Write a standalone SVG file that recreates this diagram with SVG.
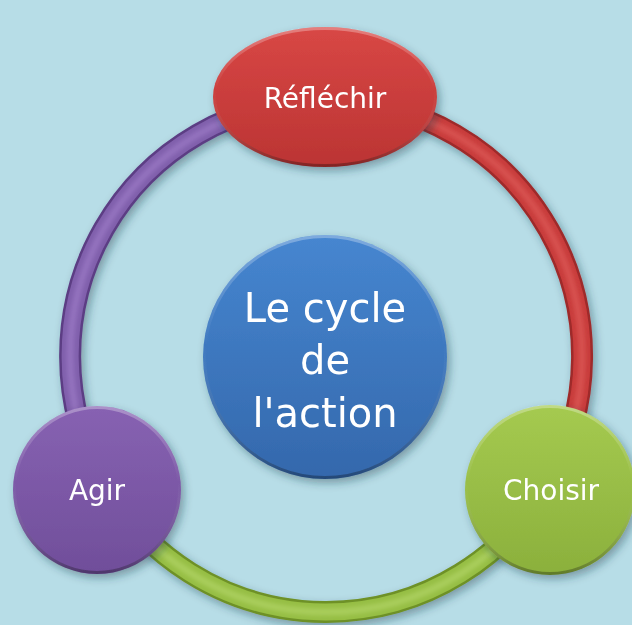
<svg xmlns="http://www.w3.org/2000/svg" width="632" height="625" viewBox="0 0 632 625">
<defs>
<filter id="sh" x="-20%" y="-20%" width="140%" height="140%">
<feDropShadow dx="3" dy="4" stdDeviation="4" flood-color="#1d3b45" flood-opacity="0.4"/>
</filter>
<filter id="bl" x="-10%" y="-10%" width="120%" height="120%">
<feGaussianBlur stdDeviation="2"/>
</filter>
<linearGradient id="gRed" x1="0" y1="0" x2="0" y2="1"><stop offset="0" stop-color="#d84745"/><stop offset="1" stop-color="#bb3433"/></linearGradient>
<linearGradient id="gPur" x1="0" y1="0" x2="0" y2="1"><stop offset="0" stop-color="#8762b2"/><stop offset="1" stop-color="#704e9a"/></linearGradient>
<linearGradient id="gGrn" x1="0" y1="0" x2="0" y2="1"><stop offset="0" stop-color="#a5ca50"/><stop offset="1" stop-color="#8bb03c"/></linearGradient>
<linearGradient id="gBlu" x1="0" y1="0" x2="0" y2="1"><stop offset="0" stop-color="#4686d0"/><stop offset="1" stop-color="#3468ac"/></linearGradient>
<linearGradient id="rim" x1="0" y1="0" x2="0" y2="1"><stop offset="0" stop-color="#ffffff" stop-opacity="0.3"/><stop offset="0.45" stop-color="#ffffff" stop-opacity="0"/><stop offset="1" stop-color="#000000" stop-opacity="0.3"/></linearGradient>
</defs>
<style>
.t{font-family:"Comic Sans MS","DejaVu Sans",sans-serif;fill:#ffffff;text-anchor:middle}
.base{fill:none;stroke-width:22}
.mid{fill:none;stroke-width:17}
.hi{fill:none;stroke-width:7;stroke-opacity:0.45}
.rim{fill:none;stroke:url(#rim);stroke-width:3}
</style>
<rect width="632" height="625" fill="#b7dde7"/>
<g id="connectors" filter="url(#sh)">
<g id="arc-red">
<path class="base" stroke="#9e2a2a" d="M326,100 A256,256 0 0 1 546,487"/>
<path class="mid" stroke="#c83c3b" d="M326,100 A256,256 0 0 1 546,487"/>
<path class="hi" stroke="#e86a68" filter="url(#bl)" d="M326,100 A256,256 0 0 1 546,487"/>
</g>
<g id="arc-purple">
<path class="base" stroke="#5c3e84" d="M105,485 A256,256 0 0 1 326,100"/>
<path class="mid" stroke="#8060ac" d="M105,485 A256,256 0 0 1 326,100"/>
<path class="hi" stroke="#aa88d4" filter="url(#bl)" d="M105,485 A256,256 0 0 1 326,100"/>
</g>
<g id="arc-green">
<path class="base" stroke="#6e9128" d="M546,487 A256,256 0 0 1 105,485"/>
<path class="mid" stroke="#96be44" d="M546,487 A256,256 0 0 1 105,485"/>
<path class="hi" stroke="#c0e07a" filter="url(#bl)" d="M546,487 A256,256 0 0 1 105,485"/>
</g>
</g>
<g id="node-center" filter="url(#sh)">
<circle cx="325" cy="357" r="122" fill="url(#gBlu)"/>
<circle cx="325" cy="357" r="120.5" class="rim"/>
<text class="t" x="325" y="322" font-size="40">Le cycle</text>
<text class="t" x="325" y="374" font-size="40">de</text>
<text class="t" x="325" y="427" font-size="40">l'action</text>
</g>
<g id="node-reflechir" filter="url(#sh)">
<ellipse cx="325" cy="97" rx="112" ry="70" fill="url(#gRed)"/>
<ellipse cx="325" cy="97" rx="110.5" ry="68.5" class="rim"/>
<text class="t" x="325" y="108" font-size="28">Réfléchir</text>
</g>
<g id="node-agir" filter="url(#sh)">
<circle cx="97" cy="490" r="84" fill="url(#gPur)"/>
<circle cx="97" cy="490" r="82.5" class="rim"/>
<text class="t" x="97" y="500" font-size="28">Agir</text>
</g>
<g id="node-choisir" filter="url(#sh)">
<circle cx="550" cy="490" r="85" fill="url(#gGrn)"/>
<circle cx="550" cy="490" r="83.5" class="rim"/>
<text class="t" x="551" y="500" font-size="28">Choisir</text>
</g>
</svg>
